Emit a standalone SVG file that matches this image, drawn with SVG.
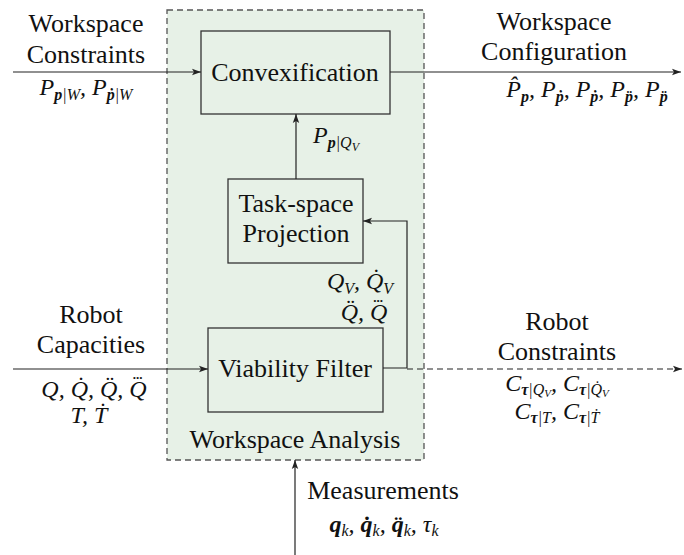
<svg xmlns="http://www.w3.org/2000/svg" width="684" height="555" viewBox="0 0 684 555" font-family="'Liberation Serif', 'Times New Roman', 'DejaVu Serif', serif">
<style>
text{font-family:'Liberation Serif','Times New Roman','DejaVu Serif',serif}
.t{font-size:26px;fill:#111;text-anchor:middle}
.m{font-size:24px;font-style:italic;fill:#111;text-anchor:middle}
.s{font-size:16px}
.b{font-weight:bold}
.d3{font-size:13px;font-style:normal;font-weight:bold}
.box{fill:none;stroke:#333;stroke-width:1.3}
.ln{fill:none;stroke:#222;stroke-width:1.2}
</style>
<defs>
<marker id="ah" markerWidth="10" markerHeight="8" refX="9" refY="4" orient="auto" markerUnits="userSpaceOnUse">
<path d="M0,0.8 L9,4 L0,7.2 L2,4 Z" fill="#222"/>
</marker>
</defs>
<g id="workspace-analysis">
<rect x="167" y="10" width="257" height="450" fill="#e7f1e7" stroke="#555" stroke-width="1.3" stroke-dasharray="6,4"/>
<text class="t" x="295" y="448">Workspace Analysis</text>
</g>
<g id="convexification">
<rect class="box" x="201" y="31" width="189" height="83"/>
<text class="t" x="295" y="81">Convexification</text>
</g>
<g id="task-space-projection">
<rect class="box" x="228" y="179" width="135" height="84"/>
<text class="t" x="296" y="212">Task-space</text>
<text class="t" x="296" y="242">Projection</text>
</g>
<g id="viability-filter">
<rect class="box" x="208" y="328" width="175" height="84"/>
<text class="t" x="295" y="377">Viability Filter</text>
</g>
<g id="connectors">
<line class="ln" x1="13" y1="72" x2="201" y2="72" marker-end="url(#ah)"/>
<line class="ln" x1="390" y1="72" x2="681" y2="72" marker-end="url(#ah)"/>
<line class="ln" x1="296" y1="179" x2="296" y2="114" marker-end="url(#ah)"/>
<polyline class="ln" points="383,368 407,368 407,221 363,221" marker-end="url(#ah)"/>
<line class="ln" x1="13" y1="369" x2="208" y2="369" marker-end="url(#ah)"/>
<line class="ln" x1="407" y1="369" x2="682" y2="369" stroke-dasharray="6,4" marker-end="url(#ah)"/>
<line class="ln" x1="295" y1="555" x2="295" y2="460" marker-end="url(#ah)"/>
</g>
<g id="labels">
<text class="t" x="86" y="32">Workspace</text>
<text class="t" x="86" y="63">Constraints</text>
<text class="m" x="86" y="95">P<tspan class="s b" dy="5">p</tspan><tspan class="s">|W</tspan><tspan dy="-5">, P</tspan><tspan class="s b" dy="5">ṗ</tspan><tspan class="s">|W</tspan></text>
<text class="t" x="554" y="30">Workspace</text>
<text class="t" x="554" y="60">Configuration</text>
<text class="m" x="587" y="97">P̂<tspan class="s b" dy="5">p</tspan><tspan dy="-5">, P</tspan><tspan class="s b" dy="5">ṗ</tspan><tspan dy="-5">, P</tspan><tspan class="s b" dy="5">ṗ</tspan><tspan dy="-5">, P</tspan><tspan class="s b" dy="5">p̈</tspan><tspan dy="-5">, P</tspan><tspan class="s b" dy="5">p̈</tspan></text>
<text class="m" x="336" y="143">P<tspan class="s b" dy="5">p</tspan><tspan class="s">|Q</tspan><tspan font-size="12px" dy="3">V</tspan></text>
<text class="m" x="360" y="289">Q<tspan class="s" dy="5">V</tspan><tspan dy="-5">, Q̇</tspan><tspan class="s" dy="5">V</tspan></text>
<text class="m" x="364" y="320">Q̈, Q<tspan class="d3" dx="-14" dy="-18">...</tspan></text>
<text class="t" x="91" y="323">Robot</text>
<text class="t" x="91" y="353">Capacities</text>
<text class="m" x="94" y="397">Q, Q̇, Q̈, Q<tspan class="d3" dx="-14" dy="-18">...</tspan></text>
<text class="m" x="89" y="423">T, Ṫ</text>
<text class="t" x="557" y="330">Robot</text>
<text class="t" x="557" y="360">Constraints</text>
<text class="m" x="557" y="391">C<tspan class="s b" dy="4">τ</tspan><tspan class="s">|Q</tspan><tspan font-size="11px" dy="2">V</tspan><tspan dy="-6">, C</tspan><tspan class="s b" dy="4">τ</tspan><tspan class="s">|Q̇</tspan><tspan font-size="11px" dy="2">V</tspan></text>
<text class="m" x="557" y="419">C<tspan class="s b" dy="4">τ</tspan><tspan class="s">|T</tspan><tspan dy="-4">, C</tspan><tspan class="s b" dy="4">τ</tspan><tspan class="s">|Ṫ</tspan></text>
<text class="t" x="383" y="499">Measurements</text>
<text class="m" x="384" y="532" font-size="22px"><tspan class="b">q</tspan><tspan class="s" dy="4">k</tspan><tspan dy="-4">, </tspan><tspan class="b">q̇</tspan><tspan class="s" dy="4">k</tspan><tspan dy="-4">, </tspan><tspan class="b">q̈</tspan><tspan class="s" dy="4">k</tspan><tspan dy="-4">, τ</tspan><tspan class="s" dy="4">k</tspan></text>
</g>
</svg>
